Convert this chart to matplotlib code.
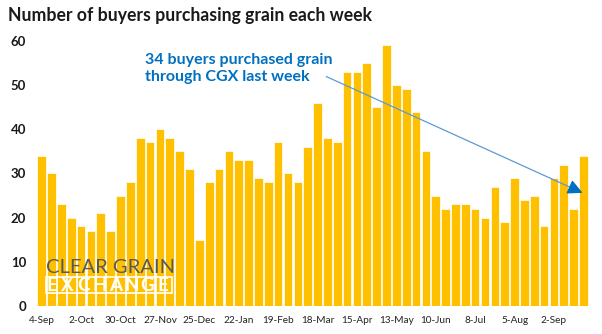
import matplotlib.pyplot as plt
import numpy as np
from matplotlib.patches import Rectangle

plt.rcParams['font.family'] = ['Lato', 'DejaVu Sans']

# weekly buyer counts, 4-Sep through 23-Sep the following year
buyers = [34, 30, 23, 20, 18, 17, 21, 17, 25, 28, 38, 37, 40, 38, 35, 31,
          15, 28, 31, 35, 33, 33, 29, 28, 37, 30, 28, 36, 46, 38, 37, 53,
          53, 55, 45, 59, 50, 49, 44, 35, 25, 22, 23, 23, 22, 20, 27, 19,
          29, 24, 25, 18, 29, 32, 22, 34]
tick_labels = ['4-Sep', '2-Oct', '30-Oct', '27-Nov', '25-Dec', '22-Jan', '19-Feb',
               '18-Mar', '15-Apr', '13-May', '10-Jun', '8-Jul', '5-Aug', '2-Sep']
y_ticks = [0, 10, 20, 30, 40, 50, 60]

x = np.arange(len(buyers))

fig = plt.figure(figsize=(6.02, 3.34), dpi=100)
ax = fig.add_axes([0.0595, 0.0838, 0.9196, 0.794])

ax.bar(x, buyers, width=0.88, color='#FFC000', edgecolor='white', linewidth=0.5)

ax.set_xlim(-0.6, len(buyers) - 0.4)
ax.set_ylim(0, 60)
ax.set_yticks(y_ticks)
ax.set_yticklabels([str(v) for v in y_ticks], fontweight='bold', fontsize=9.5, color='#1a1a1a')
ax.set_xticks(x[::4])
ax.set_xticklabels(tick_labels, fontsize=7.2, color='#222222')
ax.tick_params(axis='y', length=0, pad=7)
ax.tick_params(axis='x', length=0, pad=7)
for s in ax.spines.values():
    s.set_visible(False)

fig.text(0.013, 0.955, 'Number of buyers purchasing grain each week',
         fontsize=12.7, fontweight='bold', color='#1a1a1a', va='center', ha='left')

# annotation
ax.text(10.5, 53.8, '34 buyers purchased grain\nthrough CGX last week',
        fontsize=11.5, fontweight='bold', color='#0070C0', va='center', ha='left',
        linespacing=1.3)
x0, y0, x1, y1 = 28.9, 51.9, 54.9, 25.6
ax.plot([x0, x1 - 1.0], [y0, y0 + (y1 - y0) * (x1 - 1.0 - x0) / (x1 - x0)],
        color='#5B9BD5', lw=0.9)
ax.annotate('', xy=(x1, y1), xytext=(x1 - 1.2, y1 + 1.2 * (y0 - y1) / (x1 - x0)),
            arrowprops=dict(arrowstyle='-|>,head_length=0.9,head_width=0.45',
                            color='#0070C0', lw=0.9, shrinkA=0, shrinkB=0))

# watermark logo
ax.text(0.45, 8.6, 'CLEAR GRAIN', fontsize=14.5, color='#595959', va='center', ha='left')
for i, ch in enumerate('EXCHANGE'):
    ax.text(1.0 + i * 1.62, 4.7, ch, fontsize=13.5, color='white', fontweight='bold',
            va='center', ha='center')
ax.add_patch(Rectangle((0.45, 2.9), 12.8, 3.7, fill=False, edgecolor='white', lw=1.2))

fig.savefig('out.png', dpi=100)
